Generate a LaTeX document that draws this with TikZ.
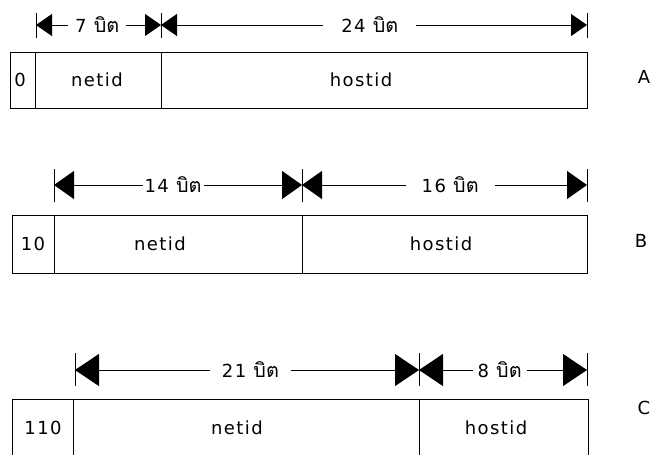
\documentclass[tikz,border=0pt]{standalone}
\usepackage{fontspec}
\setmainfont[LetterSpace=8]{DejaVu Sans}
\newfontfamily\thaifont[Script=Thai, Scale=1.1]{Loma}
\usetikzlibrary{arrows.meta}
\newcommand{\bit}{{\thaifont บิต}}

\tikzset{
  field/.style={draw, line width=1pt, rectangle, inner sep=0pt},
  txt/.style={font=\fontsize{18}{18}\selectfont, inner sep=1pt},
  tick/.style={line width=1pt},
  dimline/.style={line width=1pt},
  dimA/.style={dimline, {Triangle[length=16pt,width=22pt]}-{Triangle[length=16pt,width=22pt]}},
  dimB/.style={dimline, {Triangle[length=20pt,width=28pt]}-{Triangle[length=20pt,width=28pt]}},
  dimC/.style={dimline, {Triangle[length=24pt,width=32pt]}-{Triangle[length=24pt,width=32pt]}},
  lbl/.style={txt, fill=white, inner ysep=1pt}
}

\begin{document}
\begin{tikzpicture}[x=1pt, y=-1pt]
  \useasboundingbox (0,0) rectangle (657,455);
  \clip (0,0) rectangle (657,455);

  % ---- class A ----
  \node[field, minimum width=25pt, minimum height=56pt] (a0) at (22.5,80) {};
  \node[field, minimum width=126pt, minimum height=56pt] (a1) at (98,80) {};
  \node[field, minimum width=426pt, minimum height=56pt] (a2) at (374,80) {};
  \node[txt] (a0t) at (20,80) {0};
  \node[txt] (a1t) at (97,80) {netid};
  \node[txt] (a2t) at (361,80) {hostid};
  \node[txt] (la) at (644,77) {A};

  \coordinate (ta0) at (36,25);
  \coordinate (ta1) at (161,25);
  \coordinate (ta2) at (587,25);
  \foreach \t in {ta0,ta1,ta2} \draw[tick] (\t) ++(0,-12) -- ++(0,25);
  \draw[dimA] (ta0) -- node[lbl, inner xsep=7pt, pos=0.49] {7 \bit} (ta1);
  \draw[dimA] (ta1) -- node[lbl, inner xsep=18pt, pos=0.49] {24 \bit} (ta2);

  % ---- class B ----
  \node[field, minimum width=42pt, minimum height=58pt] (b0) at (33,244) {};
  \node[field, minimum width=248pt, minimum height=58pt] (b1) at (178,244) {};
  \node[field, minimum width=285pt, minimum height=58pt] (b2) at (444.5,244) {};
  \node[txt] (b0t) at (33,244) {10};
  \node[txt] (b1t) at (160,244) {netid};
  \node[txt] (b2t) at (441,244) {hostid};
  \node[txt] (lb) at (641,241) {B};

  \coordinate (tb0) at (54,185);
  \coordinate (tb1) at (302,185);
  \coordinate (tb2) at (587,185);
  \foreach \t in {tb0,tb1,tb2} \draw[tick] (\t) ++(0,-16) -- ++(0,33);
  \draw[dimB] (tb0) -- node[lbl, inner xsep=2pt, pos=0.48] {14 \bit} (tb1);
  \draw[dimB] (tb1) -- node[lbl, inner xsep=16pt, pos=0.52] {16 \bit} (tb2);

  % ---- class C (field continues past the lower edge) ----
  \node[field, minimum width=61pt, minimum height=80pt] (c0) at (42.5,439) {};
  \node[field, minimum width=346pt, minimum height=80pt] (c1) at (246,439) {};
  \node[field, minimum width=169pt, minimum height=80pt] (c2) at (503.5,439) {};
  \node[txt] (c0t) at (43,428) {110};
  \node[txt] (c1t) at (237,428) {netid};
  \node[txt] (c2t) at (496,428) {hostid};
  \node[txt] (lc) at (644,408) {C};

  \coordinate (tc0) at (75,370);
  \coordinate (tc1) at (419,370);
  \coordinate (tc2) at (587,370);
  \foreach \t in {tc0,tc1,tc2} \draw[tick] (\t) ++(0,-17) -- ++(0,33);
  \draw[dimC] (tc0) -- node[lbl, inner xsep=12pt, pos=0.51] {21 \bit} (tc1);
  \draw[dimC] (tc1) -- node[lbl, inner xsep=5pt, pos=0.48] {8 \bit} (tc2);
\end{tikzpicture}
\end{document}
